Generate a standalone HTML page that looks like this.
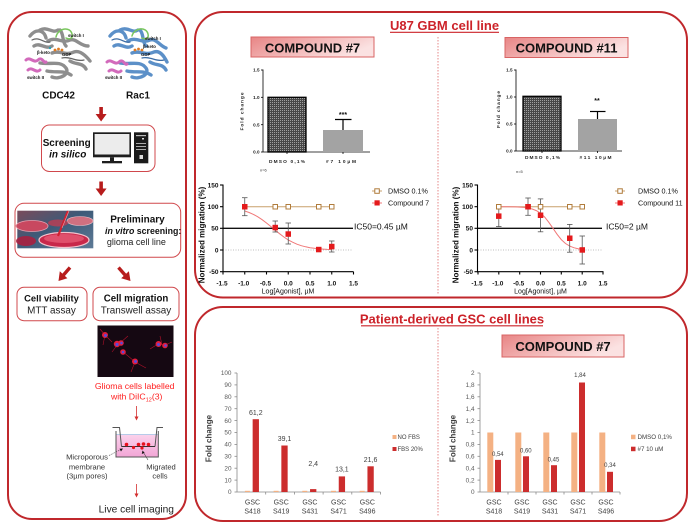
<!DOCTYPE html>
<html><head><meta charset="utf-8">
<style>
html,body{margin:0;padding:0;background:#fff;}
svg{display:block;}
text{font-family:"Liberation Sans",Arial,sans-serif;}
</style></head><body>
<svg width="692" height="524" viewBox="0 0 692 524" xmlns="http://www.w3.org/2000/svg">
<defs>
 <linearGradient id="cg" x1="0" y1="0" x2="1" y2="0.4">
  <stop offset="0" stop-color="#e88585"/><stop offset="1" stop-color="#fbe2e2"/>
 </linearGradient>
 <pattern id="hatch" width="2" height="2" patternUnits="userSpaceOnUse">
  <rect width="2" height="2" fill="#474747"/><rect width="1" height="1" fill="#a0a0a0"/>
 </pattern>
 <linearGradient id="dishbg" x1="0" y1="0" x2="1" y2="1">
  <stop offset="0" stop-color="#7a4a5a"/><stop offset="0.45" stop-color="#3d5a78"/><stop offset="1" stop-color="#5d7a96"/>
 </linearGradient>
 <linearGradient id="well" x1="0" y1="0" x2="0" y2="1">
  <stop offset="0" stop-color="#fbd3ec"/><stop offset="1" stop-color="#f2a6d6"/>
 </linearGradient>
</defs>

<!-- ================= LEFT PANEL ================= -->
<rect x="8" y="12" width="178" height="507" rx="24" fill="none" stroke="#c0282c" stroke-width="2"/>

<!-- CDC42 protein -->
<g fill="none" stroke-linecap="round">
 <g stroke="#8e8e8e" stroke-width="3.4">
  <path d="M30,36 C36,28 44,30 46,38"/>
  <path d="M40,30 C48,26 52,34 58,30"/>
  <path d="M48,41 C56,36 62,44 70,40 C76,38 80,46 88,46"/>
  <path d="M60,30 C64,34 62,42 66,46"/>
  <path d="M34,46 C40,42 46,50 52,46"/>
  <path d="M52,53 C60,50 66,56 74,52 C80,50 86,56 90,61"/>
  <path d="M70,61 C76,65 82,62 86,69"/>
  <path d="M40,63 C50,65 60,60 66,68 C70,74 60,80 52,77"/>
  <path d="M47,71 C56,73 64,70 71,75"/>
 </g>
 <g stroke="#666" stroke-width="1.2">
  <path d="M32,40 C40,36 44,44 50,42"/><path d="M62,58 C70,56 76,62 84,60"/>
 </g>
 <g stroke="#d26abb" stroke-width="3">
  <path d="M26,60 C30,56 34,64 38,60 C42,56 44,64 46,62"/>
  <path d="M28,70 C32,66 36,74 40,70"/>
 </g>
 <path d="M56,37 C58,28 70,26 72,34 C73,38 70,40 66,38" stroke="#79c65d" stroke-width="1.5"/>
</g>
<circle cx="55" cy="50" r="1.4" fill="#e07a20"/><circle cx="58.5" cy="49" r="1.4" fill="#e07a20"/><circle cx="62" cy="50" r="1.4" fill="#e07a20"/>
<circle cx="50" cy="48" r="1.2" fill="#2a9fb0"/>
<g font-size="4.3" font-weight="bold" fill="#111">
 <text x="68" y="37">switch I</text><text x="62" y="56">GDP</text><text x="37" y="54">β-keto</text><text x="27" y="79">switch II</text>
</g>

<!-- Rac1 protein -->
<g fill="none" stroke-linecap="round">
 <g stroke="#5c90c8" stroke-width="3.4">
  <path d="M110,36 C116,28 124,30 126,38"/>
  <path d="M120,30 C128,26 132,34 138,30"/>
  <path d="M128,41 C136,36 142,44 150,40 C156,38 160,46 166,48"/>
  <path d="M140,30 C144,34 142,42 146,46"/>
  <path d="M114,46 C120,42 126,50 132,46"/>
  <path d="M132,53 C140,50 146,56 154,52 C160,50 164,56 167,62"/>
  <path d="M150,62 C156,66 162,63 166,70"/>
  <path d="M120,63 C130,65 140,60 146,68 C150,74 140,80 132,77"/>
  <path d="M127,71 C136,73 144,70 151,75"/>
 </g>
 <g stroke="#3c6ca4" stroke-width="1.2">
  <path d="M112,40 C120,36 124,44 130,42"/><path d="M142,58 C150,56 156,62 164,60"/>
 </g>
 <g stroke="#d26abb" stroke-width="3">
  <path d="M107,62 C111,58 115,66 119,62 C123,58 125,66 127,64"/>
  <path d="M109,71 C113,67 117,75 121,71"/>
 </g>
 <path d="M132,36 C134,28 146,26 148,34 C149,38 146,40 142,38" stroke="#79c65d" stroke-width="1.5"/>
</g>
<circle cx="135" cy="50" r="1.4" fill="#e07a20"/><circle cx="138.5" cy="49" r="1.4" fill="#e07a20"/><circle cx="142" cy="50" r="1.4" fill="#e07a20"/>
<g font-size="4.3" font-weight="bold" fill="#111">
 <text x="145" y="40">switch I</text><text x="143" y="48">β-keto</text><text x="141" y="56">GDP</text><text x="105" y="79">switch II</text>
</g>

<text x="58.5" y="98.5" font-size="10" font-weight="bold" text-anchor="middle" fill="#111">CDC42</text>
<text x="138" y="98.5" font-size="10" font-weight="bold" text-anchor="middle" fill="#111">Rac1</text>

<!-- arrow 1 -->
<rect x="99.3" y="107" width="3.6" height="8" fill="#b71c1c"/>
<polygon points="95.6,114 106.6,114 101.1,121.5" fill="#b71c1c"/>

<!-- Screening box -->
<rect x="41.5" y="125" width="113.5" height="46.5" rx="8" fill="#fff" stroke="#d0484c" stroke-width="1"/>
<text x="42.7" y="146" font-size="10" font-weight="bold" fill="#111" textLength="48" lengthAdjust="spacingAndGlyphs">Screening</text>
<text x="67.7" y="157.3" font-size="10" font-weight="bold" font-style="italic" text-anchor="middle" fill="#111">in silico</text>
<!-- monitor -->
<rect x="93" y="132.3" width="38" height="25" fill="#1e1e1e"/>
<rect x="94.6" y="134" width="34.8" height="20.5" fill="#ececec"/>
<rect x="110" y="157.3" width="4" height="4" fill="#1e1e1e"/>
<rect x="102" y="161" width="20" height="2.3" fill="#1e1e1e"/>
<!-- tower -->
<rect x="134" y="132.3" width="14.3" height="31" fill="#1a1a1a"/>
<rect x="136" y="135" width="10" height="1.2" fill="#bbb"/>
<rect x="136" y="143" width="10" height="1" fill="#aaa"/><rect x="136" y="146" width="10" height="1" fill="#aaa"/><rect x="136" y="149" width="10" height="1" fill="#aaa"/>
<rect x="142" y="138" width="2" height="1.5" fill="#ddd"/>
<rect x="139.5" y="155" width="3.5" height="4" fill="#ddd"/>

<!-- arrow 2 -->
<rect x="99.3" y="181.5" width="3.6" height="8" fill="#b71c1c"/>
<polygon points="95.6,188.5 106.6,188.5 101.1,196" fill="#b71c1c"/>

<!-- Preliminary box -->
<rect x="15" y="203.3" width="165.7" height="54" rx="9" fill="#fff" stroke="#d0484c" stroke-width="1"/>
<rect x="17.3" y="210.7" width="76" height="37.6" fill="url(#dishbg)"/>
<ellipse cx="32" cy="226" rx="16" ry="5.5" fill="#c84860" stroke="#e6a0b0" stroke-width="0.8"/>
<ellipse cx="80" cy="221" rx="13" ry="4.5" fill="#d07080" stroke="#f0c0c8" stroke-width="0.6"/>
<ellipse cx="58" cy="223" rx="10" ry="3.5" fill="#b04058" opacity="0.9"/>
<ellipse cx="64" cy="240" rx="25" ry="7.5" fill="#c8284a" stroke="#f2c2cc" stroke-width="1.2"/>
<ellipse cx="64" cy="238.5" rx="20" ry="4.5" fill="#e0506c"/>
<ellipse cx="26" cy="241" rx="10" ry="5" fill="#a82040" opacity="0.9"/>
<line x1="68" y1="211" x2="58" y2="236" stroke="#d02030" stroke-width="2.2"/>
<line x1="69" y1="211" x2="62" y2="228" stroke="#f0a0a8" stroke-width="0.6"/>
<text x="137.5" y="222.6" font-size="10" font-weight="bold" text-anchor="middle" fill="#111">Preliminary</text>
<text x="105" y="233.8" font-size="8.8" font-weight="bold" fill="#111"><tspan font-style="italic">in vitro</tspan> screening:</text>
<text x="136.4" y="245" font-size="9" text-anchor="middle" fill="#222">glioma cell line</text>

<!-- diagonal arrows -->
<line x1="70" y1="267.5" x2="63.5" y2="275" stroke="#b71c1c" stroke-width="3.4"/>
<polygon points="58.5,281 59.8,271.2 67.4,278.2" fill="#b71c1c"/>
<line x1="118.5" y1="267.5" x2="125" y2="275" stroke="#b71c1c" stroke-width="3.4"/>
<polygon points="130.5,281 121.2,278.2 128.9,271.2" fill="#b71c1c"/>

<!-- Cell viability / migration boxes -->
<rect x="17" y="287.3" width="70" height="33.4" rx="7" fill="#fff" stroke="#d0484c" stroke-width="1"/>
<text x="51.5" y="301.7" font-size="9.4" font-weight="bold" text-anchor="middle" fill="#111">Cell viability</text>
<text x="51.5" y="313.6" font-size="9.9" text-anchor="middle" fill="#222">MTT assay</text>
<rect x="93" y="287.3" width="86" height="33.4" rx="7" fill="#fff" stroke="#d0484c" stroke-width="1"/>
<text x="136" y="301.7" font-size="9.7" font-weight="bold" text-anchor="middle" fill="#111">Cell migration</text>
<text x="136" y="313.6" font-size="9.9" text-anchor="middle" fill="#222">Transwell assay</text>

<!-- fluorescence image -->
<rect x="97.5" y="325.5" width="76" height="51.5" fill="#150812"/>
<g stroke="#b0102a" stroke-width="0.6" fill="none">
 <path d="M105,335 L100,329 M105,335 L112,342 M105,335 L103,345"/>
 <path d="M118,344 L112,352 M120,343 L128,336 M122,351 L134,361"/>
 <path d="M135,362 L146,368 M135,362 L131,372"/>
 <path d="M158,344 L150,349 M165,345 L172,342 M162,345 L160,336"/>
</g>
<g fill="#e21c3c">
 <circle cx="105" cy="335" r="3"/><circle cx="117" cy="344" r="3.2"/><circle cx="121" cy="343" r="2.8"/>
 <circle cx="123" cy="352" r="2.8"/><circle cx="135" cy="361.5" r="3"/><circle cx="158.5" cy="344" r="3"/><circle cx="165" cy="345.5" r="2.8"/>
</g>
<g fill="#5a4ad8">
 <circle cx="105.5" cy="335.5" r="1.5"/><circle cx="117" cy="344.5" r="1.6"/><circle cx="121.5" cy="343" r="1.3"/>
 <circle cx="123" cy="352" r="1.3"/><circle cx="135.5" cy="361.5" r="1.5"/><circle cx="158.5" cy="344.5" r="1.5"/><circle cx="165.5" cy="345.5" r="1.3"/>
</g>
<text x="134.7" y="388.8" font-size="8.7" text-anchor="middle" fill="#ff2020">Glioma cells labelled</text>
<text x="136.7" y="399.3" font-size="8.7" text-anchor="middle" fill="#ff2020">with DiIC<tspan font-size="5.5" dy="2">12</tspan><tspan dy="-2">(3)</tspan></text>

<!-- small arrow -->
<line x1="136.5" y1="406" x2="136.5" y2="417" stroke="#d32f2f" stroke-width="0.8"/>
<polygon points="134.5,416.5 138.5,416.5 136.5,420.5" fill="#d32f2f"/>

<!-- transwell -->
<rect x="116" y="434" width="42.3" height="22.7" fill="url(#well)"/>
<line x1="116.5" y1="434.5" x2="158" y2="434.5" stroke="#9fc8e8" stroke-width="0.8"/>
<polyline points="116,431 116,457 158.3,457 158.3,431" fill="none" stroke="#555" stroke-width="1"/>
<polyline points="112.5,427.5 119.5,427.5 121.5,446.5" fill="none" stroke="#555" stroke-width="1"/>
<polyline points="155,446.5 157,427.5 163,427.5" fill="none" stroke="#555" stroke-width="1"/>
<line x1="121.5" y1="446.5" x2="155" y2="446.5" stroke="#333" stroke-width="0.9"/>
<g fill="#e8101c">
 <circle cx="126.5" cy="444.5" r="1.8"/><circle cx="133.5" cy="447.5" r="1.6"/><circle cx="138.5" cy="444.5" r="1.8"/>
 <circle cx="143.5" cy="444" r="1.8"/><circle cx="148.5" cy="444.5" r="1.8"/><circle cx="142" cy="448" r="1.6"/>
</g>
<line x1="109" y1="455.5" x2="121" y2="449.5" stroke="#444" stroke-width="0.6" stroke-dasharray="1.5,1"/>
<polygon points="123,448.5 119.5,448.8 121,451.5" fill="#111"/>
<line x1="148" y1="460" x2="143.5" y2="452.5" stroke="#444" stroke-width="0.6"/>
<polygon points="142.5,450.5 141.8,454 144.6,452.8" fill="#111"/>
<g font-size="7.6" fill="#333" text-anchor="middle">
 <text x="87" y="459.4">Microporous</text><text x="87" y="469.4">membrane</text><text x="87" y="478.7">(3µm pores)</text>
 <text x="161" y="469.4">Migrated</text><text x="160" y="478.7">cells</text>
</g>
<line x1="136.5" y1="484" x2="136.5" y2="494" stroke="#d32f2f" stroke-width="0.8"/>
<polygon points="134.5,493.5 138.5,493.5 136.5,497.5" fill="#d32f2f"/>
<text x="136.3" y="512.7" font-size="10.2" text-anchor="middle" fill="#222">Live cell imaging</text>

<!-- ================= U87 PANEL ================= -->
<rect x="195" y="12" width="492" height="285.5" rx="28" fill="none" stroke="#c0282c" stroke-width="2"/>
<text x="444.5" y="30" font-size="13" font-weight="bold" text-anchor="middle" fill="#cc2229">U87 GBM cell line</text>
<line x1="390" y1="32.3" x2="499" y2="32.3" stroke="#cc2229" stroke-width="1.2"/>
<line x1="438" y1="37" x2="438" y2="294" stroke="#e06a6a" stroke-width="0.8" stroke-dasharray="1.5,1.5"/>

<!-- compound #7 header -->
<rect x="251" y="37" width="123" height="20" fill="url(#cg)" stroke="#d86464" stroke-width="1"/>
<text x="312.5" y="52.4" font-size="13" font-weight="bold" text-anchor="middle" fill="#111">COMPOUND #7</text>
<!-- compound #11 header -->
<rect x="505" y="37.5" width="123" height="20" fill="url(#cg)" stroke="#d86464" stroke-width="1"/>
<text x="566.5" y="52.6" font-size="13" font-weight="bold" text-anchor="middle" fill="#111">COMPOUND #11</text>

<!-- compound 7 bar chart -->
<g stroke="#000" stroke-width="0.8">
 <line x1="263" y1="69.5" x2="263" y2="152"/>
 <line x1="261" y1="70" x2="263" y2="70"/><line x1="261" y1="97.3" x2="263" y2="97.3"/>
 <line x1="261" y1="124.7" x2="263" y2="124.7"/><line x1="261" y1="152" x2="263" y2="152"/>
 <line x1="263" y1="152" x2="370" y2="152"/>
 <line x1="287" y1="152" x2="287" y2="154"/><line x1="343" y1="152" x2="343" y2="154"/>
</g>
<g font-size="4.6" font-weight="bold" text-anchor="end" fill="#222">
 <text x="259.5" y="71.6">1.5</text><text x="259.5" y="98.9">1.0</text><text x="259.5" y="126.3">0.5</text><text x="259.5" y="153.6">0.0</text>
</g>
<text transform="translate(243.5,111.5) rotate(-90)" font-size="4.8" font-weight="bold" text-anchor="middle" fill="#222" textLength="38" lengthAdjust="spacing">Fold change</text>
<rect x="268" y="97.3" width="38" height="54.7" fill="url(#hatch)" stroke="#000" stroke-width="1.3"/>
<rect x="323" y="130" width="40" height="22" fill="#a3a3a3"/>
<g stroke="#000" stroke-width="1.2"><line x1="343" y1="130" x2="343" y2="119.5"/><line x1="335" y1="119.5" x2="351.5" y2="119.5"/></g>
<text x="343" y="117" font-size="7" font-weight="bold" text-anchor="middle" fill="#111">***</text>
<text x="287" y="163" font-size="4.8" font-weight="bold" text-anchor="middle" fill="#222" textLength="36" lengthAdjust="spacing">DMSO 0,1%</text>
<text x="341" y="163" font-size="4.8" font-weight="bold" text-anchor="middle" fill="#222" textLength="30" lengthAdjust="spacing">#7 10µM</text>
<text x="260" y="171.5" font-size="4" fill="#333">n=6</text>

<!-- compound 11 bar chart -->
<g stroke="#000" stroke-width="0.8">
 <line x1="516" y1="69.5" x2="516" y2="151"/>
 <line x1="514" y1="70" x2="516" y2="70"/><line x1="514" y1="97" x2="516" y2="97"/>
 <line x1="514" y1="124" x2="516" y2="124"/><line x1="514" y1="151" x2="516" y2="151"/>
 <line x1="516" y1="151" x2="622" y2="151"/>
 <line x1="542" y1="151" x2="542" y2="153"/><line x1="597.5" y1="151" x2="597.5" y2="153"/>
</g>
<g font-size="4.6" font-weight="bold" text-anchor="end" fill="#222">
 <text x="512.5" y="71.6">1.5</text><text x="512.5" y="98.6">1.0</text><text x="512.5" y="125.6">0.5</text><text x="512.5" y="152.6">0.0</text>
</g>
<text transform="translate(500,109.5) rotate(-90)" font-size="4.8" font-weight="bold" text-anchor="middle" fill="#222" textLength="37" lengthAdjust="spacing">Fold change</text>
<rect x="523" y="96.3" width="38" height="54.7" fill="url(#hatch)" stroke="#000" stroke-width="1.3"/>
<rect x="578" y="119" width="39" height="32" fill="#a3a3a3"/>
<g stroke="#000" stroke-width="1.2"><line x1="597.5" y1="119" x2="597.5" y2="111.5"/><line x1="590" y1="111.5" x2="605.5" y2="111.5"/></g>
<text x="597" y="103" font-size="7" font-weight="bold" text-anchor="middle" fill="#111">**</text>
<text x="542.5" y="159" font-size="4.8" font-weight="bold" text-anchor="middle" fill="#222" textLength="35" lengthAdjust="spacing">DMSO 0,1%</text>
<text x="595.5" y="159" font-size="4.8" font-weight="bold" text-anchor="middle" fill="#222" textLength="32" lengthAdjust="spacing">#11 10µM</text>
<text x="516" y="173" font-size="4" fill="#333">n=5</text>

<!-- compound 7 dose-response -->
<line x1="223" y1="250" x2="353" y2="250" stroke="#aaa" stroke-width="0.8" stroke-dasharray="1,1.5"/>
<line x1="223" y1="228.3" x2="353" y2="228.3" stroke="#111" stroke-width="1.4"/>
<g stroke="#000" stroke-width="1.1">
 <line x1="223" y1="184.5" x2="223" y2="272.2"/>
 <line x1="220" y1="185" x2="223" y2="185"/><line x1="220" y1="206.7" x2="223" y2="206.7"/><line x1="220" y1="228.3" x2="223" y2="228.3"/>
 <line x1="220" y1="250" x2="223" y2="250"/><line x1="220" y1="271.7" x2="223" y2="271.7"/>
 <line x1="222.5" y1="271.7" x2="353.5" y2="271.7"/>
 <line x1="223" y1="271.7" x2="223" y2="274.5"/><line x1="244.75" y1="271.7" x2="244.75" y2="274.5"/><line x1="266.5" y1="271.7" x2="266.5" y2="274.5"/>
 <line x1="288.25" y1="271.7" x2="288.25" y2="274.5"/><line x1="310" y1="271.7" x2="310" y2="274.5"/><line x1="331.75" y1="271.7" x2="331.75" y2="274.5"/><line x1="353.5" y1="271.7" x2="353.5" y2="274.5"/>
</g>
<g font-size="6.5" font-weight="bold" text-anchor="end" fill="#111">
 <text x="218.5" y="187.3">150</text><text x="218.5" y="209">100</text><text x="218.5" y="230.6">50</text><text x="218.5" y="252.3">0</text><text x="218.5" y="274">-50</text>
</g>
<g font-size="6.5" font-weight="bold" text-anchor="middle" fill="#111">
 <text x="222" y="285.5">-1.5</text><text x="243.7" y="285.5">-1.0</text><text x="265.5" y="285.5">-0.5</text><text x="288.25" y="285.5">0.0</text>
 <text x="310" y="285.5">0.5</text><text x="331.75" y="285.5">1.0</text><text x="353.5" y="285.5">1.5</text>
</g>
<text x="288" y="293.5" font-size="7" text-anchor="middle" fill="#111">Log[Agonist], µM</text>
<text transform="translate(204.5,235) rotate(-90)" font-size="8" font-weight="bold" text-anchor="middle" fill="#111">Normalized migration (%)</text>
<text x="354" y="229.3" font-size="8.5" fill="#111">IC50=0.45 µM</text>
<!-- DMSO series -->
<polyline points="244.75,206.7 331.75,206.7" fill="none" stroke="#c9a06c" stroke-width="1"/>
<g fill="#fff" stroke="#b07c3c" stroke-width="1">
 <rect x="242.5" y="204.5" width="4.5" height="4.5"/><rect x="273" y="204.5" width="4.5" height="4.5"/><rect x="286" y="204.5" width="4.5" height="4.5"/>
 <rect x="316.5" y="204.5" width="4.5" height="4.5"/><rect x="329.5" y="204.5" width="4.5" height="4.5"/>
</g>
<!-- curve -->
<polyline points="244.75,211.0 249.1,212.5 253.45,214.4 257.8,216.8 262.15,219.7 266.5,223.0 270.85,226.5 275.2,230.2 279.55,233.7 283.9,237.0 288.25,239.9 292.6,242.2 296.95,244.2 301.3,245.7 305.65,246.8 310,247.7 314.35,248.3 318.7,248.8 323.05,249.1 327.4,249.4 331.75,249.6" fill="none" stroke="#f07878" stroke-width="1"/>
<g stroke="#555" stroke-width="0.8">
 <line x1="244.75" y1="197.7" x2="244.75" y2="215.7"/><line x1="242" y1="197.7" x2="247.5" y2="197.7"/><line x1="242" y1="215.7" x2="247.5" y2="215.7"/>
 <line x1="275.2" y1="221" x2="275.2" y2="232"/><line x1="272.5" y1="221" x2="278" y2="221"/><line x1="272.5" y1="232" x2="278" y2="232"/>
 <line x1="288.25" y1="223" x2="288.25" y2="244"/><line x1="285.5" y1="223" x2="291" y2="223"/><line x1="285.5" y1="244" x2="291" y2="244"/>
 <line x1="318.7" y1="248" x2="318.7" y2="251.5"/><line x1="316" y1="251.5" x2="321.5" y2="251.5"/>
 <line x1="331.75" y1="241" x2="331.75" y2="252"/><line x1="329" y1="241" x2="334.5" y2="241"/><line x1="329" y1="252" x2="334.5" y2="252"/>
</g>
<g fill="#e41a1c">
 <rect x="242" y="204" width="5.5" height="5.5"/><rect x="272.5" y="224.8" width="5.5" height="5.5"/><rect x="285.5" y="231.3" width="5.5" height="5.5"/>
 <rect x="316" y="246.8" width="5.5" height="5.5"/><rect x="329" y="243.8" width="5.5" height="5.5"/>
</g>
<!-- legend 7 -->
<line x1="372" y1="191" x2="382" y2="191" stroke="#c9a06c" stroke-width="1"/>
<rect x="374.8" y="188.8" width="4.5" height="4.5" fill="#fff" stroke="#b07c3c" stroke-width="1"/>
<text x="388" y="193.5" font-size="7.2" fill="#111">DMSO 0.1%</text>
<line x1="372" y1="203" x2="382" y2="203" stroke="#f07878" stroke-width="1"/>
<rect x="374.5" y="200.3" width="5.2" height="5.2" fill="#e41a1c"/>
<text x="388" y="205.5" font-size="7.2" fill="#111">Compound 7</text>

<!-- compound 11 dose-response -->
<line x1="478" y1="250" x2="603" y2="250" stroke="#aaa" stroke-width="0.8" stroke-dasharray="1,1.5"/>
<line x1="478" y1="228.3" x2="602" y2="228.3" stroke="#111" stroke-width="1.4"/>
<g stroke="#000" stroke-width="1.1">
 <line x1="477.5" y1="184.5" x2="477.5" y2="272.2"/>
 <line x1="474.5" y1="185" x2="477.5" y2="185"/><line x1="474.5" y1="206.7" x2="477.5" y2="206.7"/><line x1="474.5" y1="228.3" x2="477.5" y2="228.3"/>
 <line x1="474.5" y1="250" x2="477.5" y2="250"/><line x1="474.5" y1="271.7" x2="477.5" y2="271.7"/>
 <line x1="477" y1="271.7" x2="603.5" y2="271.7"/>
 <line x1="478" y1="271.7" x2="478" y2="274.5"/><line x1="498.8" y1="271.7" x2="498.8" y2="274.5"/><line x1="519.7" y1="271.7" x2="519.7" y2="274.5"/>
 <line x1="540.5" y1="271.7" x2="540.5" y2="274.5"/><line x1="561.3" y1="271.7" x2="561.3" y2="274.5"/><line x1="582.2" y1="271.7" x2="582.2" y2="274.5"/><line x1="603" y1="271.7" x2="603" y2="274.5"/>
</g>
<g font-size="6.5" font-weight="bold" text-anchor="end" fill="#111">
 <text x="473" y="187.3">150</text><text x="473" y="209">100</text><text x="473" y="230.6">50</text><text x="473" y="252.3">0</text><text x="473" y="274">-50</text>
</g>
<g font-size="6.5" font-weight="bold" text-anchor="middle" fill="#111">
 <text x="477" y="285.5">-1.5</text><text x="497.8" y="285.5">-1.0</text><text x="518.7" y="285.5">-0.5</text><text x="540.5" y="285.5">0.0</text>
 <text x="561.3" y="285.5">0.5</text><text x="582.2" y="285.5">1.0</text><text x="603" y="285.5">1.5</text>
</g>
<text x="540.5" y="293.5" font-size="7" text-anchor="middle" fill="#111">Log[Agonist], µM</text>
<text transform="translate(458.5,235) rotate(-90)" font-size="8" font-weight="bold" text-anchor="middle" fill="#111">Normalized migration (%)</text>
<text x="606" y="229.3" font-size="8.5" fill="#111">IC50=2 µM</text>
<polyline points="498.8,206.7 582.2,206.7" fill="none" stroke="#c9a06c" stroke-width="1"/>
<polyline points="498.8,206.7 507.1,206.7 515.5,206.9 523.8,207.4 532.2,209.0 536.3,210.6 540.5,213.2 544.7,217.1 548.8,222.3 553.0,228.3 557.2,234.4 561.3,239.6 565.5,243.5 569.7,246.1 573.8,247.7 578.0,248.7 582.2,249.3" fill="none" stroke="#f07878" stroke-width="1"/>
<g stroke="#555" stroke-width="0.8">
 <line x1="498.8" y1="206.2" x2="498.8" y2="226.6"/><line x1="496" y1="206.2" x2="501.5" y2="206.2"/><line x1="496" y1="226.6" x2="501.5" y2="226.6"/>
 <line x1="528" y1="198" x2="528" y2="215.3"/><line x1="525.3" y1="198" x2="530.8" y2="198"/><line x1="525.3" y1="215.3" x2="530.8" y2="215.3"/>
 <line x1="540.5" y1="198.9" x2="540.5" y2="231.8"/><line x1="537.8" y1="198.9" x2="543.3" y2="198.9"/><line x1="537.8" y1="231.8" x2="543.3" y2="231.8"/>
 <line x1="569.7" y1="224.4" x2="569.7" y2="252.2"/><line x1="567" y1="224.4" x2="572.5" y2="224.4"/><line x1="567" y1="252.2" x2="572.5" y2="252.2"/>
 <line x1="582.2" y1="236" x2="582.2" y2="264"/><line x1="579.5" y1="236" x2="585" y2="236"/><line x1="579.5" y1="264" x2="585" y2="264"/>
</g>
<g fill="#fff" stroke="#b07c3c" stroke-width="1">
 <rect x="496.5" y="204.5" width="4.5" height="4.5"/><rect x="525.8" y="204.5" width="4.5" height="4.5"/><rect x="538.3" y="204.5" width="4.5" height="4.5"/>
 <rect x="567.5" y="204.5" width="4.5" height="4.5"/><rect x="580" y="204.5" width="4.5" height="4.5"/>
</g>
<g fill="#e41a1c">
 <rect x="496" y="213.4" width="5.5" height="5.5"/><rect x="525.3" y="204" width="5.5" height="5.5"/><rect x="537.8" y="212.5" width="5.5" height="5.5"/>
 <rect x="567" y="235.5" width="5.5" height="5.5"/><rect x="579.5" y="247.2" width="5.5" height="5.5"/>
</g>
<!-- legend 11 -->
<line x1="615" y1="191" x2="625" y2="191" stroke="#c9a06c" stroke-width="1"/>
<rect x="617.8" y="188.8" width="4.5" height="4.5" fill="#fff" stroke="#b07c3c" stroke-width="1"/>
<text x="638" y="193.5" font-size="7.2" fill="#111">DMSO 0.1%</text>
<line x1="615" y1="203" x2="625" y2="203" stroke="#f07878" stroke-width="1"/>
<rect x="617.5" y="200.3" width="5.2" height="5.2" fill="#e41a1c"/>
<text x="638" y="205.5" font-size="7.2" fill="#111">Compound 11</text>

<!-- ================= BOTTOM PANEL ================= -->
<rect x="195" y="307" width="492" height="214" rx="28" fill="none" stroke="#c0282c" stroke-width="2"/>
<text x="452" y="323.5" font-size="13" font-weight="bold" text-anchor="middle" fill="#cc2229">Patient-derived GSC cell lines</text>
<line x1="361" y1="325.8" x2="543" y2="325.8" stroke="#cc2229" stroke-width="1.2"/>
<line x1="438" y1="328" x2="438" y2="517" stroke="#e06a6a" stroke-width="0.8" stroke-dasharray="1.5,1.5"/>
<rect x="502" y="335" width="122" height="22" fill="url(#cg)" stroke="#d86464" stroke-width="1"/>
<text x="563" y="350.8" font-size="13" font-weight="bold" text-anchor="middle" fill="#111">COMPOUND #7</text>

<!-- bottom left chart -->
<g stroke="#8a8a8a" stroke-width="0.8">
 <line x1="237" y1="373" x2="237" y2="492"/>
 <line x1="234.5" y1="373" x2="237" y2="373"/><line x1="234.5" y1="384.9" x2="237" y2="384.9"/><line x1="234.5" y1="396.8" x2="237" y2="396.8"/>
 <line x1="234.5" y1="408.7" x2="237" y2="408.7"/><line x1="234.5" y1="420.6" x2="237" y2="420.6"/><line x1="234.5" y1="432.5" x2="237" y2="432.5"/>
 <line x1="234.5" y1="444.4" x2="237" y2="444.4"/><line x1="234.5" y1="456.3" x2="237" y2="456.3"/><line x1="234.5" y1="468.2" x2="237" y2="468.2"/>
 <line x1="234.5" y1="480.1" x2="237" y2="480.1"/><line x1="234.5" y1="492" x2="237" y2="492"/>
 <line x1="237" y1="492" x2="380.5" y2="492"/>
 <line x1="265.7" y1="492" x2="265.7" y2="494.5"/><line x1="294.4" y1="492" x2="294.4" y2="494.5"/><line x1="323.1" y1="492" x2="323.1" y2="494.5"/>
 <line x1="351.8" y1="492" x2="351.8" y2="494.5"/><line x1="380.5" y1="492" x2="380.5" y2="494.5"/>
</g>
<g font-size="6.4" text-anchor="end" fill="#595959">
 <text x="231.5" y="375.2">100</text><text x="231.5" y="387.1">90</text><text x="231.5" y="399">80</text><text x="231.5" y="410.9">70</text>
 <text x="231.5" y="422.8">60</text><text x="231.5" y="434.7">50</text><text x="231.5" y="446.6">40</text><text x="231.5" y="458.5">30</text>
 <text x="231.5" y="470.4">20</text><text x="231.5" y="482.3">10</text><text x="231.5" y="494.2">0</text>
</g>
<text transform="translate(211.5,438.5) rotate(-90)" font-size="8" font-weight="bold" text-anchor="middle" fill="#404040">Fold change</text>
<g fill="#f4b183">
 <rect x="244.9" y="490.8" width="5" height="1.2"/><rect x="273.6" y="490.8" width="5" height="1.2"/><rect x="302.3" y="490.8" width="5" height="1.2"/>
 <rect x="331" y="490.8" width="5" height="1.2"/><rect x="359.7" y="490.8" width="5" height="1.2"/>
</g>
<g fill="#cc2d2d">
 <rect x="252.65" y="419.2" width="6.3" height="72.8"/><rect x="281.35" y="445.5" width="6.3" height="46.5"/>
 <rect x="310.05" y="489.1" width="6.3" height="2.9"/><rect x="338.75" y="476.4" width="6.3" height="15.6"/>
 <rect x="367.45" y="466.3" width="6.3" height="25.7"/>
</g>
<g font-size="7" text-anchor="middle" fill="#404040">
 <text x="255.8" y="414.8">61,2</text><text x="284.5" y="440.8">39,1</text><text x="313.2" y="465.8">2,4</text>
 <text x="341.9" y="471.5">13,1</text><text x="370.6" y="461.8">21,6</text>
</g>
<g font-size="7" text-anchor="middle" fill="#404040">
 <text x="252.5" y="504.3">GSC</text><text x="281.2" y="504.3">GSC</text><text x="309.9" y="504.3">GSC</text><text x="338.6" y="504.3">GSC</text><text x="367.3" y="504.3">GSC</text>
 <text x="252.5" y="513.6">S418</text><text x="281.2" y="513.6">S419</text><text x="309.9" y="513.6">S431</text><text x="338.6" y="513.6">S471</text><text x="367.3" y="513.6">S496</text>
</g>
<rect x="392.5" y="435" width="4" height="4" fill="#f4b183"/>
<text x="397.5" y="439.2" font-size="6" fill="#404040">NO FBS</text>
<rect x="392.5" y="447" width="4" height="4" fill="#cc2d2d"/>
<text x="397.5" y="451.2" font-size="6" fill="#404040">FBS 20%</text>

<!-- bottom right chart -->
<g stroke="#8a8a8a" stroke-width="0.8">
 <line x1="480" y1="373" x2="480" y2="492"/>
 <line x1="477.5" y1="373" x2="480" y2="373"/><line x1="477.5" y1="384.9" x2="480" y2="384.9"/><line x1="477.5" y1="396.8" x2="480" y2="396.8"/>
 <line x1="477.5" y1="408.7" x2="480" y2="408.7"/><line x1="477.5" y1="420.6" x2="480" y2="420.6"/><line x1="477.5" y1="432.5" x2="480" y2="432.5"/>
 <line x1="477.5" y1="444.4" x2="480" y2="444.4"/><line x1="477.5" y1="456.3" x2="480" y2="456.3"/><line x1="477.5" y1="468.2" x2="480" y2="468.2"/>
 <line x1="477.5" y1="480.1" x2="480" y2="480.1"/><line x1="477.5" y1="492" x2="480" y2="492"/>
 <line x1="480" y1="492" x2="620" y2="492"/>
 <line x1="508" y1="492" x2="508" y2="494.5"/><line x1="536" y1="492" x2="536" y2="494.5"/><line x1="564" y1="492" x2="564" y2="494.5"/>
 <line x1="592" y1="492" x2="592" y2="494.5"/><line x1="620" y1="492" x2="620" y2="494.5"/>
</g>
<g font-size="6.4" text-anchor="end" fill="#595959">
 <text x="474.5" y="375.2">2</text><text x="474.5" y="387.1">1,8</text><text x="474.5" y="399">1,6</text><text x="474.5" y="410.9">1,4</text>
 <text x="474.5" y="422.8">1,2</text><text x="474.5" y="434.7">1</text><text x="474.5" y="446.6">0,8</text><text x="474.5" y="458.5">0,6</text>
 <text x="474.5" y="470.4">0,4</text><text x="474.5" y="482.3">0,2</text><text x="474.5" y="494.2">0</text>
</g>
<text transform="translate(455.5,438.5) rotate(-90)" font-size="8" font-weight="bold" text-anchor="middle" fill="#404040">Fold change</text>
<g fill="#f4b183">
 <rect x="487.3" y="432.5" width="6" height="59.5"/><rect x="515.3" y="432.5" width="6" height="59.5"/><rect x="543.3" y="432.5" width="6" height="59.5"/>
 <rect x="571.3" y="432.5" width="6" height="59.5"/><rect x="599.3" y="432.5" width="6" height="59.5"/>
</g>
<g fill="#cc2d2d">
 <rect x="495" y="459.9" width="6" height="32.1"/><rect x="523" y="456.3" width="6" height="35.7"/>
 <rect x="551" y="465.2" width="6" height="26.8"/><rect x="579" y="382.5" width="6" height="109.5"/>
 <rect x="607" y="471.8" width="6" height="20.2"/>
</g>
<g font-size="6" text-anchor="middle" fill="#404040">
 <text x="497.8" y="456.2">0,54</text><text x="525.8" y="452.4">0,60</text><text x="553.5" y="461.5">0,45</text>
 <text x="580" y="377.2">1,84</text><text x="610" y="467.2">0,34</text>
</g>
<g font-size="7" text-anchor="middle" fill="#404040">
 <text x="494" y="504.6">GSC</text><text x="522" y="504.6">GSC</text><text x="550" y="504.6">GSC</text><text x="578" y="504.6">GSC</text><text x="606" y="504.6">GSC</text>
 <text x="494" y="513.6">S418</text><text x="522" y="513.6">S419</text><text x="550" y="513.6">S431</text><text x="578" y="513.6">S471</text><text x="606" y="513.6">S496</text>
</g>
<rect x="631" y="434.7" width="4.5" height="4.5" fill="#f4b183"/>
<text x="637.5" y="439.2" font-size="6.2" fill="#404040">DMSO 0,1%</text>
<rect x="631" y="446.7" width="4.5" height="4.5" fill="#cc2d2d"/>
<text x="637.5" y="451.2" font-size="6.2" fill="#404040">#7 10 uM</text>
</svg>
</body></html>
